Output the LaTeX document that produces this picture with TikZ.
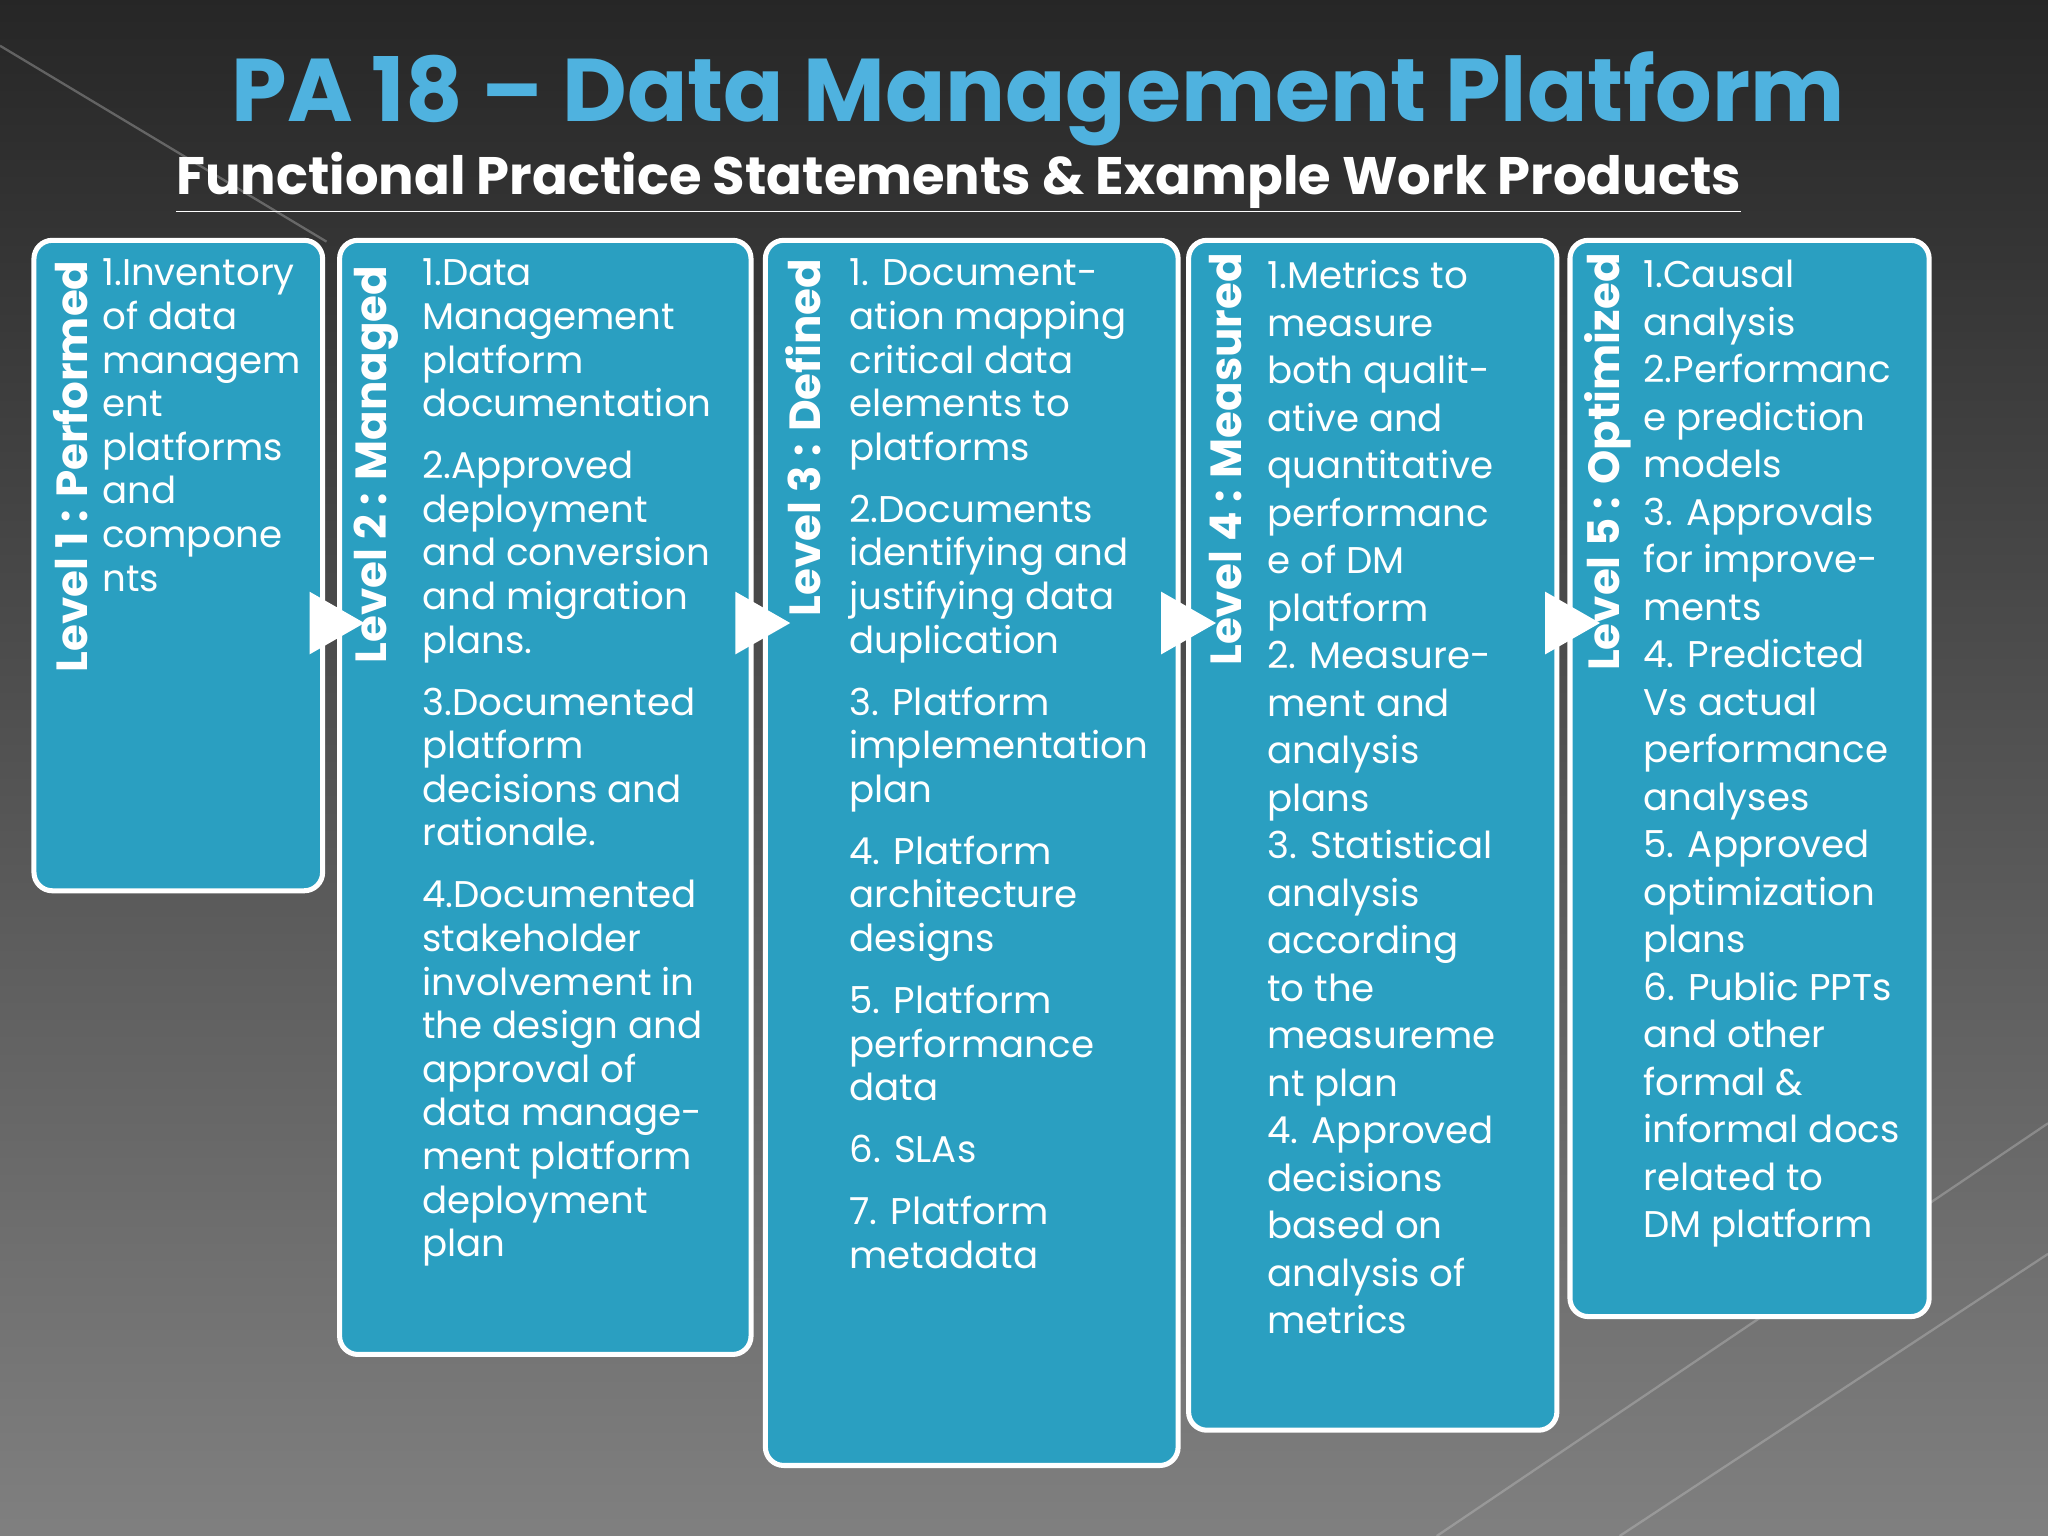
\documentclass[tikz,border=0pt]{standalone}
\usepackage{fontspec}
\setmainfont{Poppins}
\begin{document}
\begin{tikzpicture}[x=0.02cm,y=-0.02cm]
\definecolor{boxc}{HTML}{2A9FC1}
\definecolor{titc}{HTML}{4FB2DF}
\tikzset{
 lvbox/.style={draw=white,line width=2.2pt,fill=boxc,rounded corners=8pt},
 lvlab/.style={rotate=90,anchor=west,text=white,font=\bfseries\fontsize{19}{22}\selectfont,inner sep=0pt},
 body/.style={anchor=north west,align=left,text=white,inner sep=0pt,font=\fontsize{16.2}{19}\selectfont},
 bodyb/.style={body,font=\fontsize{16.2}{20.7}\selectfont},
 tri/.style={fill=white,draw=none}
}
\useasboundingbox (0,0) rectangle (1568,1176);
\fill[top color=black!85, bottom color=black!50] (0,0) rectangle (1568,1176);
\draw[white!60!gray,opacity=0.35,line width=1pt] (0,35) -- (250,185);
\draw[white!60!gray,opacity=0.35,line width=1pt] (1100,1176) -- (1568,860);
\draw[white!60!gray,opacity=0.35,line width=1pt] (1240,1176) -- (1568,960);
\node[text=titc,font=\bfseries\fontsize{38.8}{44}\selectfont] (title) at (795,76) {PA 18 – Data Management Platform};
\node[text=white,font=\bfseries\fontsize{23}{27}\selectfont] (sub) at (734,140) {\underline{Functional Practice Statements \& Example Work Products}};
\draw[lvbox] (26,184) rectangle (247,682);
\draw[lvbox] (260,184) rectangle (575,1037);
\draw[lvbox] (586,184) rectangle (902,1122);
\draw[lvbox] (910,184) rectangle (1192,1095);
\draw[lvbox] (1202,184) rectangle (1477,1008);
\node[lvlab] (l1) at (54,515) {Level 1 : Performed};
\node[lvlab] (l2) at (288,508) {Level 2 : Managed};
\node[lvlab] (l3) at (615,472) {Level 3 : Defined};
\node[lvlab] (l4) at (938,510) {Level 4 : Measured};
\node[lvlab] (l5) at (1231,514) {Level 5 : Optimized};
\foreach \x in {237,563,889,1183}{\fill[tri] (\x,453) -- (\x+42,477) -- (\x,501) -- cycle;}
\node[body] (t1) at (78,198) {1.Inventory\\of data\\managem\\ent\\platforms\\and\\compone\\nts};
\node[body] (t2) at (323,198) {1.Data\\Management\\platform\\documentation\\[8pt]2.Approved\\deployment\\and conversion\\and migration\\plans.\\[8pt]3.Documented\\platform\\decisions and\\rationale.\\[8pt]4.Documented\\stakeholder\\involvement in\\the design and\\approval of\\data manage-\\ment platform\\deployment\\plan};
\node[body] (t3) at (650,198) {1. Document-\\ation mapping\\critical data\\elements to\\platforms\\[8pt]2.Documents\\identifying and\\justifying data\\duplication\\[8pt]3. Platform\\implementation\\plan\\[8pt]4. Platform\\architecture\\designs\\[8pt]5. Platform\\performance\\data\\[8pt]6. SLAs\\[8pt]7. Platform\\metadata};
\node[bodyb] (t4) at (970,199) {1.Metrics to\\measure\\both qualit-\\ative and\\quantitative\\performanc\\e of DM\\platform\\2. Measure-\\ment and\\analysis\\plans\\3. Statistical\\analysis\\according\\to the\\measureme\\nt plan\\4. Approved\\decisions\\based on\\analysis of\\metrics};
\node[bodyb] (t5) at (1258,199) {1.Causal\\analysis\\2.Performanc\\e prediction\\models\\3. Approvals\\for improve-\\ments\\4. Predicted\\Vs actual\\performance\\analyses\\5. Approved\\optimization\\plans\\6. Public PPTs\\and other\\formal \&\\informal docs\\related to\\DM platform};
\end{tikzpicture}
\end{document}
